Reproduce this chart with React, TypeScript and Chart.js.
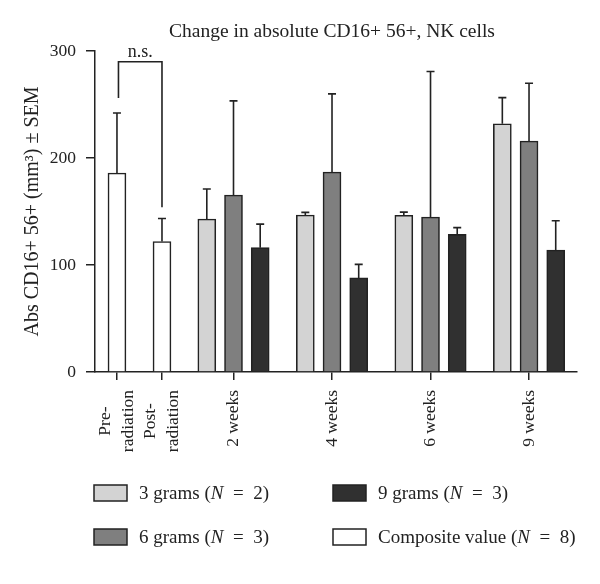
import React, { useEffect, useRef } from 'react';
import { Chart, registerables } from 'chart.js';

Chart.register(...registerables);

// ---------- data ----------
const CHART_TITLE = 'Change in absolute CD16+ 56+, NK cells';
const Y_TITLE = 'Abs CD16+ 56+ (mm³) ± SEM';
const baselineLabels: string[][] = [['Pre-', 'radiation'], ['Post-', 'radiation']];
const weekLabels: string[] = ['2 weeks', '4 weeks', '6 weeks', '9 weeks'];

const compositeValues = [186, 122];
const compositeSEM = [56, 21.5];

const grams3Values = [143, 146.7, 146.4, 232];
const grams3SEM = [28, 2.5, 3, 24.4];
const grams6Values = [165.4, 186.9, 144.9, 215.9];
const grams6SEM = [88, 73, 136, 54];
const grams9Values = [116.2, 87.9, 128.6, 114];
const grams9SEM = [22, 12.7, 6.3, 27.4];

const seriesNames = ['3 grams', '6 grams', '9 grams', 'Composite value'];
const seriesN = [2, 3, 3, 8];

const yTickValues = [0, 100, 200, 300];
const NS_LABEL = 'n.s.';
const NS_TOP = 290;
const nsLegEnds = [256, 154];

// ---------- layout / style ----------
const SUB_STEP = 0.271;
const BASE_X = [-1.183, -0.726];
const X_MIN = -1.406;
const X_MAX = 3.487;
const FONT = '"Liberation Serif", "Times New Roman", serif';
const INK = '#222222';
const COLORS = ['#d3d3d3', '#7f7f7f', '#303030', '#ffffff'];

const groupX = weekLabels.map((_, i) => i);
const tickPositions = [...BASE_X, ...groupX];
const tickLabels: string[][] = [...baselineLabels, ...weekLabels.map((w) => [w])];

const titlePlugin = {
  id: 'titleText',
  afterDraw(chart: any) {
    const { ctx, chartArea } = chart;
    ctx.save();
    ctx.font = `19.5px ${FONT}`;
    ctx.fillStyle = INK;
    ctx.textAlign = 'center';
    ctx.textBaseline = 'middle';
    ctx.fillText(CHART_TITLE, (chartArea.left + chartArea.right) / 2 - 4, chartArea.top - 19);
    ctx.restore();
  },
};

const errorBarPlugin = {
  id: 'errorBars',
  afterDatasetsDraw(chart: any) {
    const { ctx } = chart;
    const y = chart.scales.y;
    ctx.save();
    ctx.strokeStyle = INK;
    ctx.lineWidth = 1.6;
    chart.data.datasets.forEach((ds: any, di: number) => {
      const meta = chart.getDatasetMeta(di);
      meta.data.forEach((el: any, i: number) => {
        const v = ds.data[i].y;
        const top = y.getPixelForValue(v + ds.sem[i]);
        ctx.beginPath();
        ctx.moveTo(el.x, el.y);
        ctx.lineTo(el.x, top);
        ctx.moveTo(el.x - 4, top);
        ctx.lineTo(el.x + 4, top);
        ctx.stroke();
      });
    });
    // n.s. bracket between pre and post composite bars
    const compIdx = chart.data.datasets.length - 1;
    const cm = chart.getDatasetMeta(compIdx).data;
    const x1 = cm[0].x + 1.5;
    const x2 = cm[1].x;
    const yt = y.getPixelForValue(NS_TOP);
    ctx.beginPath();
    ctx.moveTo(x1, y.getPixelForValue(nsLegEnds[0]));
    ctx.lineTo(x1, yt);
    ctx.lineTo(x2, yt);
    ctx.lineTo(x2, y.getPixelForValue(nsLegEnds[1]));
    ctx.stroke();
    ctx.font = `18px ${FONT}`;
    ctx.fillStyle = INK;
    ctx.textAlign = 'center';
    ctx.textBaseline = 'alphabetic';
    ctx.fillText(NS_LABEL, (x1 + x2) / 2, yt - 5);
    ctx.restore();
  },
};

const xLabelPlugin = {
  id: 'xLabels',
  afterDraw(chart: any) {
    const { ctx, chartArea } = chart;
    const x = chart.scales.x;
    const top = chartArea.bottom + 18;
    const lh = 23;
    ctx.save();
    ctx.font = `17.5px ${FONT}`;
    ctx.fillStyle = INK;
    ctx.textBaseline = 'middle';
    tickPositions.forEach((pos, i) => {
      const lines = tickLabels[i];
      const px = x.getPixelForValue(pos);
      ctx.save();
      ctx.translate(px, top);
      ctx.rotate(-Math.PI / 2);
      if (lines.length === 1) {
        ctx.textAlign = 'right';
        ctx.fillText(lines[0], 0, 0);
      } else {
        const w = Math.max(...lines.map((l) => ctx.measureText(l).width));
        ctx.textAlign = 'center';
        lines.forEach((l, li) => {
          ctx.fillText(l, -w / 2, (li - (lines.length - 1) / 2) * lh);
        });
      }
      ctx.restore();
    });
    ctx.restore();
  },
};

const legendPlugin = {
  id: 'customLegend',
  afterDraw(chart: any) {
    const { ctx, chartArea } = chart;
    const order = [0, 2, 1, 3];
    const colX = [chartArea.left - 1, chartArea.left + 238];
    const rowY = [chartArea.bottom + 113, chartArea.bottom + 157];
    ctx.save();
    order.forEach((si, k) => {
      const bx = colX[k % 2];
      const by = rowY[Math.floor(k / 2)];
      ctx.fillStyle = COLORS[si];
      ctx.fillRect(bx, by, 33, 16);
      ctx.strokeStyle = INK;
      ctx.lineWidth = 1.5;
      ctx.strokeRect(bx, by, 33, 16);
      const cy = by + 9;
      let tx = bx + 45;
      ctx.fillStyle = INK;
      ctx.textBaseline = 'middle';
      ctx.textAlign = 'left';
      const parts: [string, boolean][] = [
        [`${seriesNames[si]} (`, false],
        ['N', true],
        [`\u2002=\u2002${seriesN[si]})`, false],
      ];
      parts.forEach(([t, it]) => {
        ctx.font = `${it ? 'italic ' : ''}19px ${FONT}`;
        ctx.fillText(t, tx, cy);
        tx += ctx.measureText(t).width;
      });
    });
    ctx.restore();
  },
};

export default function App() {
  const ref = useRef<HTMLCanvasElement | null>(null);
  useEffect(() => {
    if (!ref.current) return;
    const mk = (label: string, xs: number[], vals: number[], sem: number[], color: string) => ({
      label,
      data: xs.map((x, i) => ({ x, y: vals[i] })),
      sem,
      backgroundColor: color,
      borderColor: INK,
      borderWidth: 1.6,
      barThickness: 18,
      grouped: false,
    });
    const chart = new Chart(ref.current, {
      type: 'bar',
      data: {
        datasets: [
          mk(seriesNames[0], groupX.map((g) => g - SUB_STEP), grams3Values, grams3SEM, COLORS[0]),
          mk(seriesNames[1], groupX, grams6Values, grams6SEM, COLORS[1]),
          mk(seriesNames[2], groupX.map((g) => g + SUB_STEP), grams9Values, grams9SEM, COLORS[2]),
          mk(seriesNames[3], BASE_X, compositeValues, compositeSEM, COLORS[3]),
        ] as any,
      },
      options: {
        responsive: false,
        animation: false,
        layout: { padding: { left: 0, right: 15, top: 43, bottom: 104 } },
        plugins: { legend: { display: false }, title: { display: false }, tooltip: { enabled: false } },
        scales: {
          x: {
            type: 'linear',
            offset: false,
            min: X_MIN,
            max: X_MAX,
            afterBuildTicks: (scale: any) => {
              scale.ticks = tickPositions.map((value) => ({ value }));
            },
            afterFit: (scale: any) => {
              scale.height = 100;
            },
            grid: { display: true, offset: false, drawOnChartArea: false, drawTicks: true, tickLength: 8, color: INK, lineWidth: 1.5 },
            border: { display: true, color: INK, width: 1.5 },
            ticks: { display: false, autoSkip: false },
          },
          y: {
            min: 0,
            max: 300,
            afterBuildTicks: (scale: any) => {
              scale.ticks = yTickValues.map((value) => ({ value }));
            },
            afterFit: (scale: any) => {
              scale.width = 87;
            },
            grid: { display: true, drawOnChartArea: false, drawTicks: true, tickLength: 9, color: INK, lineWidth: 1.5 },
            border: { display: true, color: INK, width: 1.5 },
            ticks: { padding: 10, color: INK, font: { family: FONT, size: 17.5 } },
            title: {
              display: true,
              text: Y_TITLE,
              color: INK,
              font: { family: FONT, size: 20 },
              padding: { top: 13, bottom: 0 },
            },
          },
        },
      } as any,
      plugins: [titlePlugin, errorBarPlugin, xLabelPlugin, legendPlugin],
    });
    return () => chart.destroy();
  }, []);
  return (
    <div style={{ width: 584, height: 568 }}>
      <canvas ref={ref} width={584} height={568} style={{ display: 'block' }} />
    </div>
  );
}
